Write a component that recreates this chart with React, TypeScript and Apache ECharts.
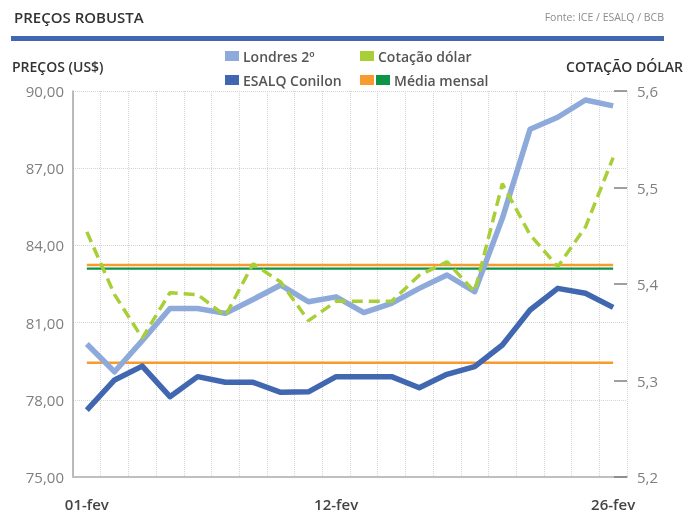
import React, { useEffect, useRef } from "react";
import * as echarts from "echarts";

const categories = [
  "01-fev", "02-fev", "03-fev", "04-fev", "05-fev", "08-fev", "09-fev", "10-fev", "11-fev", "12-fev",
  "15-fev", "16-fev", "17-fev", "18-fev", "19-fev", "22-fev", "23-fev", "24-fev", "25-fev", "26-fev",
];
const shownLabels = ["01-fev", "12-fev", "26-fev"];

const londres = [80.17, 79.09, 80.3, 81.55, 81.55, 81.36, 81.9, 82.46, 81.81, 82.0, 81.39, 81.75, 82.33, 82.85, 82.2, 85.05, 88.51, 88.98, 89.65, 89.42];
const conilon = [77.6, 78.77, 79.31, 78.12, 78.9, 78.68, 78.68, 78.29, 78.31, 78.9, 78.9, 78.9, 78.47, 78.99, 79.29, 80.13, 81.49, 82.33, 82.14, 81.59];
const dolar = [5.454, 5.389, 5.344, 5.391, 5.389, 5.367, 5.421, 5.402, 5.362, 5.382, 5.382, 5.382, 5.409, 5.423, 5.392, 5.504, 5.451, 5.418, 5.459, 5.531];

const mediaLondres = 83.24;
const mediaConilon = 79.44;
const mediaDolar = 5.416;

const FONT = "Open Sans";
const C_LONDRES = "#8eaadb";
const C_CONILON = "#4167b1";
const C_DOLAR = "#a9cf38";
const C_ORANGE = "#f89a2c";
const C_GREEN = "#0c9447";

export default function App() {
  const ref = useRef<HTMLDivElement>(null);
  useEffect(() => {
    if (!ref.current) return;
    const chart = echarts.init(ref.current, null, { renderer: "svg" });
    const flat = (v: number) => categories.map(() => v);
    const legendItem = (x: number, y: number, colors: string[], label: string) => {
      const els: any[] = colors.map((c, i) => ({
        type: "rect",
        shape: { x: x + i * 16, y: y - 5, width: 14, height: 10 },
        style: { fill: c },
      }));
      els.push({
        type: "text",
        x: x + colors.length * 16 + 2,
        y,
        style: { text: label, fill: "#555555", font: `600 14px "${FONT}"`, verticalAlign: "middle" },
      });
      return els;
    };
    chart.setOption({
      animation: false,
      textStyle: { fontFamily: FONT },
      grid: { left: 73, right: 70, top: 91, bottom: 35 },
      graphic: [
        { type: "text", x: 14, y: 17, style: { text: "PREÇOS ROBUSTA", fill: "#333333", font: `600 15px "${FONT}"`, verticalAlign: "middle" } },
        { type: "text", x: 664, y: 17, style: { text: "Fonte: ICE / ESALQ / BCB", fill: "#8c8c8c", font: `10.5px "${FONT}"`, align: "right", verticalAlign: "middle" } },
        { type: "rect", shape: { x: 11, y: 36, width: 653, height: 5 }, style: { fill: "#4267b2" } },
        { type: "text", x: 12, y: 66, style: { text: "PREÇOS (US$)", fill: "#333333", font: `600 14px "${FONT}"`, verticalAlign: "middle" } },
        { type: "text", x: 683, y: 66, style: { text: "COTAÇÃO DÓLAR", fill: "#333333", font: `600 14px "${FONT}"`, align: "right", verticalAlign: "middle" } },
        ...legendItem(225, 56, [C_LONDRES], "Londres 2º"),
        ...legendItem(360, 56, [C_DOLAR], "Cotação dólar"),
        ...legendItem(225, 80, [C_CONILON], "ESALQ Conilon"),
        ...legendItem(360, 80, [C_ORANGE, C_GREEN], "Média mensal"),
      ],
      xAxis: {
        type: "category",
        data: categories,
        boundaryGap: true,
        axisLine: { show: true, lineStyle: { color: "#bfbfbf", width: 2 } },
        axisTick: { show: false },
        axisLabel: {
          interval: 0,
          formatter: (v: string) => (shownLabels.includes(v) ? v : ""),
          color: "#444444",
          fontSize: 15,
          lineHeight: 15,
          fontWeight: 600,
          fontFamily: FONT,
          margin: 19,
        },
        splitLine: { show: true, interval: 0, lineStyle: { color: "#d4d4d4", type: "dotted", width: 1 } },
      },
      yAxis: [
        {
          type: "value",
          min: 75,
          max: 90,
          interval: 3,
          axisLine: { show: true, lineStyle: { color: "#a6a6a6", width: 1.5 } },
          axisTick: { show: false },
          axisLabel: {
            formatter: (v: number) => v.toFixed(2).replace(".", ","),
            color: "#7f7f7f",
            fontSize: 15,
            fontFamily: FONT,
            margin: 9,
          },
          splitLine: { show: true, lineStyle: { color: "#d4d4d4", type: "dotted", width: 1 } },
        },
        {
          type: "value",
          min: 5.2,
          max: 5.6,
          interval: 0.1,
          position: "right",
          axisLine: { show: false },
          axisTick: { show: true, inside: true, length: 13, lineStyle: { color: "#7f7f7f", width: 1.5 } },
          axisLabel: {
            formatter: (v: number) => v.toFixed(1).replace(".", ","),
            color: "#7f7f7f",
            fontSize: 15,
            fontFamily: FONT,
            margin: 10,
          },
          splitLine: { show: false },
        },
      ],
      series: [
        { name: "Média Londres", type: "line", data: flat(mediaLondres), symbol: "none", lineStyle: { color: C_ORANGE, width: 2.5 }, z: 2 },
        { name: "Média Dólar", type: "line", yAxisIndex: 1, data: flat(mediaDolar), symbol: "none", lineStyle: { color: C_GREEN, width: 2.2 }, z: 2 },
        { name: "Média Conilon", type: "line", data: flat(mediaConilon), symbol: "none", lineStyle: { color: C_ORANGE, width: 2.5 }, z: 2 },
        { name: "ESALQ Conilon", type: "line", data: conilon, symbol: "none", lineStyle: { color: C_CONILON, width: 5.5, join: "round" }, z: 3 },
        { name: "Londres 2º", type: "line", data: londres, symbol: "none", lineStyle: { color: C_LONDRES, width: 5.5, join: "round" }, z: 4 },
        { name: "Cotação dólar", type: "line", yAxisIndex: 1, data: dolar, symbol: "none", lineStyle: { color: C_DOLAR, width: 3.5, type: [11, 6] }, z: 5 },
      ],
    });
    return () => chart.dispose();
  }, []);
  return <div ref={ref} style={{ position: "fixed", left: 0, top: 0, width: 697, height: 512 }} />;
}
